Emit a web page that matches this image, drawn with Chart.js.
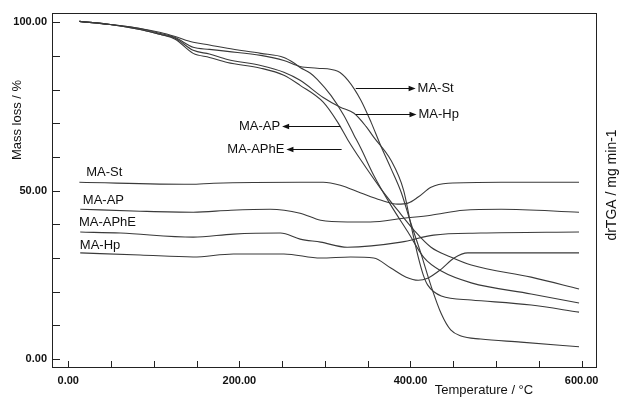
<!DOCTYPE html>
<html>
<head>
<meta charset="utf-8">
<script src="https://cdn.jsdelivr.net/npm/chart.js@4/dist/chart.umd.min.js"></script>
<style>
  html, body { margin: 0; padding: 0; background: #fff; }
  canvas { display: block; }
</style>
</head>
<body>
<canvas id="chart" width="621" height="398"></canvas>
<script>
// TGA mass loss curves (temperature in degC, mass in %)
const tgaApT  = [13, 49, 84, 108, 125, 146, 165, 186, 225, 252, 263, 271, 283, 291, 307, 322, 334, 342, 357, 377, 397, 416, 436, 471, 541, 597];
const tgaAp   = [100.3, 99.4, 98.2, 97.0, 95.8, 94.1, 93.3, 92.3, 90.8, 89.6, 88.1, 86.6, 84.9, 83.1, 78.3, 72.4, 66.5, 62.6, 54.6, 45.7, 37.7, 30.0, 26.1, 22.6, 19.3, 16.6];

const tgaStT  = [13, 49, 84, 108, 125, 146, 165, 186, 225, 252, 271, 291, 315, 327, 342, 354, 365, 377, 389, 400, 412, 424, 436, 447, 459, 482, 529, 597];
const tgaSt   = [100.3, 99.4, 98.2, 96.7, 95.5, 92.6, 92.0, 91.4, 90.2, 88.7, 86.9, 86.4, 85.5, 82.8, 76.9, 70.3, 63.5, 56.7, 49.6, 40.7, 31.5, 21.7, 13.4, 8.6, 6.8, 5.9, 5.0, 3.6];

const tgaHpT  = [13, 49, 84, 108, 125, 146, 165, 186, 225, 252, 271, 298, 318, 334, 348, 357, 377, 392, 400, 409, 415, 420, 436, 471, 541, 597];
const tgaHp   = [100.3, 99.4, 97.9, 96.4, 95.3, 91.7, 90.6, 89.0, 87.2, 85.2, 82.8, 77.7, 74.8, 73.0, 69.1, 65.9, 59.1, 50.1, 40.4, 30.3, 24.9, 22.0, 18.7, 17.5, 16.0, 13.9];

const tgaAphT = [13, 49, 84, 108, 125, 146, 165, 186, 225, 252, 271, 298, 315, 327, 342, 365, 385, 404, 424, 447, 471, 541, 597];
const tgaAph  = [100.3, 99.4, 97.9, 96.4, 95.0, 90.8, 89.6, 88.1, 86.4, 84.3, 81.3, 76.3, 70.3, 65.0, 59.1, 50.7, 44.2, 38.3, 33.2, 30.3, 27.9, 24.3, 20.8];

// drTGA curves (offset, no scale on the right axis)
const drStT  = [13, 143, 170, 271, 298, 318, 342, 365, 385, 397, 409, 424, 444, 506, 597];
const drSt   = [52.5, 51.9, 52.2, 52.5, 52.5, 51.6, 49.3, 47.2, 46.0, 46.3, 48.1, 51.0, 52.2, 52.5, 52.5];

const drApT  = [14, 84, 146, 190, 236, 271, 295, 326, 353, 392, 424, 462, 506, 597];
const drAp   = [44.5, 43.9, 43.6, 44.2, 44.5, 43.3, 41.2, 40.7, 40.7, 41.8, 42.7, 44.2, 44.5, 43.6];

const drAphT = [14, 61, 146, 193, 248, 271, 295, 326, 389, 427, 482, 597];
const drAph  = [37.7, 37.4, 36.2, 37.1, 37.4, 35.6, 34.7, 33.2, 34.7, 36.8, 37.4, 37.7];

const drHpT  = [14, 84, 146, 193, 252, 295, 330, 357, 377, 395, 409, 420, 436, 451, 467, 506, 597];
const drHp   = [31.5, 30.9, 30.3, 31.2, 31.2, 30.0, 30.3, 30.0, 27.0, 24.3, 23.4, 24.0, 26.7, 30.0, 31.5, 31.5, 31.5];

const xTickValues = [0, 50, 100, 150, 200, 250, 300, 350, 400, 450, 500, 550, 600];
const yTickValues = [0, 10, 20, 30, 40, 50, 60, 70, 80, 90, 100];

// curve labels: [text, temperature, value]
const drLabels = [
  ['MA-St', 21, 55.5],
  ['MA-AP', 17, 47.2],
  ['MA-APhE', 12.5, 40.7],
  ['MA-Hp', 13.5, 33.8]
];
// arrow labels: [text, from T, to T (arrow tip), value]
const arrowLabels = [
  ['MA-St', 336, 406, 80.4],
  ['MA-Hp', 336, 407, 72.9],
  ['MA-AP', 318, 250, 69.3],
  ['MA-APhE', 319.5, 255, 62.5]
];

const LINE = '#3a3a3a';
const pairs = (xs, ys) => xs.map((x, i) => ({ x, y: ys[i] }));
const mkSet = (label, xs, ys) => ({
  label, data: pairs(xs, ys),
  borderColor: LINE, borderWidth: 1.1, pointRadius: 0,
  cubicInterpolationMode: 'monotone', fill: false
});

const decor = {
  id: 'decor',
  afterDatasetsDraw(chart) {
    const { ctx, chartArea: a, scales: { x, y } } = chart;
    ctx.save();
    // frame
    ctx.strokeStyle = '#222';
    ctx.lineWidth = 1;
    ctx.strokeRect(a.left + 0.5, a.top + 0.5, a.right - a.left - 1, a.bottom - a.top - 1);
    // inward ticks
    ctx.beginPath();
    xTickValues.forEach(v => {
      const px = Math.round(x.getPixelForValue(v)) + 0.5;
      ctx.moveTo(px, a.bottom);
      ctx.lineTo(px, a.bottom - 7);
    });
    yTickValues.forEach(v => {
      const py = Math.round(y.getPixelForValue(v)) + 0.5;
      ctx.moveTo(a.left, py);
      ctx.lineTo(a.left + 8, py);
    });
    ctx.stroke();

    ctx.fillStyle = '#111';
    ctx.textBaseline = 'middle';
    ctx.font = '13px "Liberation Sans", Arial, sans-serif';
    ctx.textAlign = 'left';
    drLabels.forEach(([t, tx, ty]) => {
      ctx.fillText(t, x.getPixelForValue(tx), y.getPixelForValue(ty));
    });

    // arrows
    ctx.strokeStyle = '#111';
    arrowLabels.forEach(([t, fromT, toT, v]) => {
      const x0 = x.getPixelForValue(fromT);
      const x1 = x.getPixelForValue(toT);
      const py = Math.round(y.getPixelForValue(v)) + 0.5;
      const dir = x1 > x0 ? 1 : -1;
      ctx.beginPath();
      ctx.moveTo(x0, py);
      ctx.lineTo(x1 - dir * 6, py);
      ctx.stroke();
      ctx.beginPath();
      ctx.moveTo(x1, py);
      ctx.lineTo(x1 - dir * 7, py - 2.8);
      ctx.lineTo(x1 - dir * 7, py + 2.8);
      ctx.closePath();
      ctx.fill();
      ctx.textAlign = dir > 0 ? 'left' : 'right';
      ctx.fillText(t, x1 + dir * 2, py);
    });

    // axis titles
    ctx.textAlign = 'center';
    ctx.fillText('Temperature / \u00B0C', 484, 390);
    ctx.save();
    ctx.translate(17, 120);
    ctx.rotate(-Math.PI / 2);
    ctx.fillText('Mass loss / %', 0, 0);
    ctx.restore();
    ctx.save();
    ctx.translate(612, 185);
    ctx.rotate(-Math.PI / 2);
    ctx.font = '14px "Liberation Sans", Arial, sans-serif';
    ctx.fillText('drTGA / mg min-1', 0, 0);
    ctx.restore();
    ctx.restore();
  }
};

new Chart(document.getElementById('chart'), {
  type: 'line',
  data: {
    datasets: [
      mkSet('MA-AP', tgaApT, tgaAp),
      mkSet('MA-St', tgaStT, tgaSt),
      mkSet('MA-Hp', tgaHpT, tgaHp),
      mkSet('MA-APhE', tgaAphT, tgaAph),
      mkSet('MA-St drTGA', drStT, drSt),
      mkSet('MA-AP drTGA', drApT, drAp),
      mkSet('MA-APhE drTGA', drAphT, drAph),
      mkSet('MA-Hp drTGA', drHpT, drHp)
    ]
  },
  options: {
    responsive: false,
    animation: false,
    devicePixelRatio: 1,
    layout: { padding: { top: 13, right: 24, left: 0, bottom: 0 } },
    plugins: { legend: { display: false }, tooltip: { enabled: false } },
    scales: {
      x: {
        type: 'linear', min: -19, max: 618,
        grid: { display: false, drawTicks: false },
        border: { display: false },
        afterBuildTicks: s => { s.ticks = xTickValues.map(value => ({ value })); },
        afterFit: s => { s.height = 30; },
        ticks: {
          autoSkip: false, maxRotation: 0, padding: 6, color: '#111',
          font: { family: '"Liberation Sans", Arial, sans-serif', size: 11, weight: 'bold' },
          callback: v => v % 200 === 0 ? v.toFixed(2) : ''
        }
      },
      y: {
        type: 'linear', min: -2.7, max: 102.8,
        grid: { display: false, drawTicks: false },
        border: { display: false },
        afterBuildTicks: s => { s.ticks = yTickValues.map(value => ({ value })); },
        afterFit: s => { s.width = 52; },
        ticks: {
          autoSkip: false, padding: 5, color: '#111',
          font: { family: '"Liberation Sans", Arial, sans-serif', size: 11, weight: 'bold' },
          callback: v => v % 50 === 0 ? v.toFixed(2) : ''
        }
      }
    }
  },
  plugins: [decor]
});
</script>
</body>
</html>
